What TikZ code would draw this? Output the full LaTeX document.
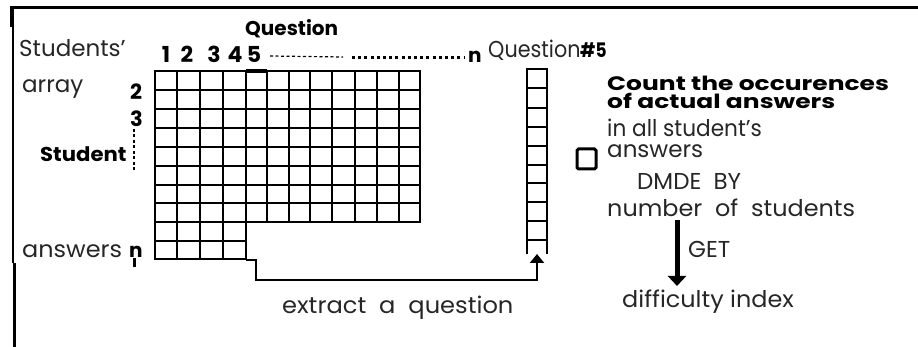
\documentclass[tikz,border=0pt]{standalone}
\usepackage{fontspec}
\setmainfont{Poppins}
\usetikzlibrary{arrows.meta}
\begin{document}
\begin{tikzpicture}[x=1pt,y=-1pt]
\useasboundingbox (0,0) rectangle (918,347);
\tikzset{
  gridline/.style={line width=2.9pt, line cap=rect},
  framepart/.style={line width=2.8pt},
  thintext/.style={font=\fontsize{23}{25}\selectfont, text=black!85, inner sep=0pt, anchor=base west},
  boldtext/.style={font=\fontsize{20}{22}\selectfont\bfseries, inner sep=0pt, anchor=base west},
  digit/.style={font=\fontsize{22}{24}\selectfont\bfseries, inner sep=0pt, anchor=base},
}
% frame
\draw[line width=3pt] (10,7.5) -- (918,7.5);
\draw[framepart] (13,7) -- (13,263);
\draw[framepart] (14.5,263) -- (14.5,347);
\draw[line width=4pt] (11.5,8) -- (11.5,27);
% main grid
\foreach \x in {155,177,200,223,246,267,289,310,332,355,377,399,420}
  \draw[gridline] (\x,71) -- (\x,222);
\foreach \x in {155,177,200,223,246}
  \draw[gridline] (\x,222) -- (\x,259);
\foreach \y in {71,90,109,128,147,166,185,203,222}
  \draw[gridline] (155,\y) -- (420,\y);
\foreach \y in {241,259}
  \draw[gridline] (155,\y) -- (246,\y);
% highlighted column 5
\draw[line width=4pt] (246,71) -- (267,71);
% extracted column
\foreach \y in {69,88,108,127,146,165,183,202,221,240}
  \draw[gridline] (527,\y) -- (547,\y);
\draw[gridline] (527,69) -- (527,253);
\draw[gridline] (547,69) -- (547,253);
% extract connector
\coordinate (exA) at (246,260);
\coordinate (exB) at (256,260);
\coordinate (exC) at (256,280);
\coordinate (exD) at (537,280);
\coordinate (colBot) at (537,254);
\draw[line width=2.8pt, -{Triangle[length=9pt,width=14pt]}] (exA) -- (exB) -- (exC) -- (exD) -- (colBot);
% small square
\draw[line width=3pt, rounded corners=1.5pt] (577,149) rectangle (596,169);
% question index dots
\coordinate (dA) at (270,56);
\coordinate (dB) at (343,57);
\coordinate (dC) at (352,58);
\coordinate (dD) at (464,58);
\draw[line width=1.2pt, dash pattern=on 3pt off 2.5pt] (dA) -- (dB);
\draw[line width=3pt, dash pattern=on 3pt off 3.2pt] (dC) -- (dD);
% student index dashes
\coordinate (sA) at (134,129);
\coordinate (sB) at (134,171);
\draw[line width=1.3pt, dash pattern=on 3pt off 2.5pt] (sA) -- (sB);
% left labels
\node[thintext] (students) at (19,57) {Students'};
\node[thintext] (array) at (22,93) {array};
\node[boldtext] (student) at (40,162) {\scalebox{1.06}[1]{Student}};
\node[thintext] (answersL) at (22,258) {\scalebox{1.04}[1]{answers}};
\node[boldtext] (rown) at (129,258) {n};
\coordinate (nA) at (134.5,258);
\coordinate (nB) at (134.5,267);
\draw[line width=2.2pt] (nA) -- (nB);
\node[boldtext, font=\fontsize{21}{22}\selectfont\bfseries] (row2) at (130,100) {2};
\node[boldtext, font=\fontsize{21}{22}\selectfont\bfseries] (row3) at (130,127) {3};
% column header
\node[boldtext] (qhead) at (245,36) {Question};
\node[digit] (c1) at (166,63) {1};
\node[digit] (c2) at (187,63) {2};
\node[digit] (c3) at (214,63) {3};
\node[digit] (c4) at (235,63) {4};
\node[digit] (c5) at (254,63) {5};
\node[boldtext] (cn) at (468,63) {n};
\node[thintext] (q5) at (488,58) {\scalebox{0.9}[1]{Question}};
\node[boldtext] (q5num) at (580,58) {\scalebox{0.85}[1]{\#5}};
% right texts
\node[boldtext, font=\fontsize{19.5}{21}\selectfont\bfseries] (count1) at (607,91)
  {\scalebox{1.28}[1]{Count the occurences}};
\node[boldtext, font=\fontsize{19.5}{21}\selectfont\bfseries] (count2) at (607,109)
  {\scalebox{1.28}[1]{of actual answers}};
\node[thintext] (inall) at (607,137) {\scalebox{0.94}[1]{in all student's}};
\node[thintext] (answersR) at (607,158) {answers};
\node[thintext] (divide) at (637,190) {DMDE\ \ BY};
\node[thintext] (number) at (607,217) {\scalebox{1.04}[1]{number\ \ of\ \ students}};
\node[thintext] (get) at (688,258) {GET};
\node[thintext] (diff) at (622,307) {\scalebox{1.04}[1]{difficulty index}};
\node[thintext] (extract) at (282,313) {\scalebox{1.05}[1]{extract\ \ a\ \ question}};
% GET arrow
\coordinate (gA) at (677,220);
\coordinate (gB) at (677,286);
\draw[line width=5pt, -{Triangle[length=10pt,width=18pt]}] (gA) -- (gB);
\end{tikzpicture}
\end{document}
